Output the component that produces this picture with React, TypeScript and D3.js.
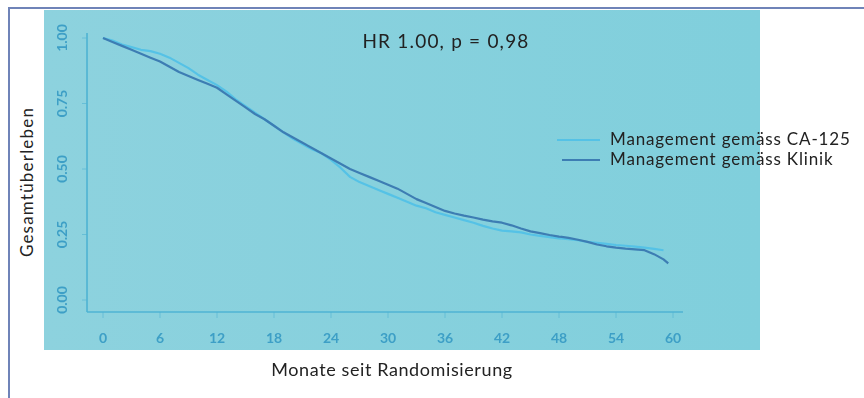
import React from "react";
import * as d3 from "d3";

const xTicks = [0, 6, 12, 18, 24, 30, 36, 42, 48, 54, 60];
const yTicks = [0, 0.25, 0.5, 0.75, 1];
const yTickLabels = ["0.00", "0.25", "0.50", "0.75", "1.00"];

const monthsCA = [0, 1, 2, 3, 4, 5, 6, 7, 8, 9, 10, 11, 12, 13, 14, 15, 16, 17, 18, 19, 20, 21, 22, 23, 24, 25, 26, 27, 28, 29, 30, 31, 32, 33, 34, 35, 36, 37, 38, 39, 40, 41, 42, 43, 44, 45, 46, 47, 48, 49, 50, 51, 52, 53, 54, 55, 56, 57, 58, 59];
const survCA = [1.0, 0.99, 0.975, 0.965, 0.955, 0.95, 0.94, 0.925, 0.905, 0.885, 0.86, 0.84, 0.82, 0.795, 0.765, 0.74, 0.715, 0.69, 0.665, 0.64, 0.615, 0.595, 0.575, 0.56, 0.535, 0.505, 0.47, 0.45, 0.435, 0.42, 0.405, 0.39, 0.375, 0.36, 0.35, 0.335, 0.325, 0.315, 0.305, 0.295, 0.283, 0.273, 0.265, 0.262, 0.258, 0.25, 0.245, 0.24, 0.235, 0.232, 0.228, 0.222, 0.218, 0.214, 0.21, 0.207, 0.204, 0.2, 0.195, 0.19];

const monthsKl = [0, 1, 2, 3, 4, 5, 6, 7, 8, 9, 10, 11, 12, 13, 14, 15, 16, 17, 18, 19, 20, 21, 22, 23, 24, 25, 26, 27, 28, 29, 30, 31, 32, 33, 34, 35, 36, 37, 38, 39, 40, 41, 42, 43, 44, 45, 46, 47, 48, 49, 50, 51, 52, 53, 54, 55, 56, 57, 58, 59, 59.5];
const survKl = [1.0, 0.985, 0.97, 0.955, 0.94, 0.925, 0.91, 0.89, 0.87, 0.855, 0.84, 0.825, 0.81, 0.785, 0.76, 0.735, 0.71, 0.69, 0.665, 0.64, 0.62, 0.6, 0.58, 0.56, 0.54, 0.52, 0.5, 0.485, 0.47, 0.455, 0.44, 0.425, 0.405, 0.385, 0.37, 0.355, 0.34, 0.33, 0.322, 0.315, 0.307, 0.3, 0.295, 0.285, 0.273, 0.262, 0.255, 0.248, 0.242, 0.237, 0.23, 0.222, 0.212, 0.205, 0.2, 0.196, 0.193, 0.19, 0.175, 0.155, 0.14];

const seriesNames = ["Management gemäss CA-125", "Management gemäss Klinik"];
const seriesColors = ["#55c2e6", "#3d7db3"];
const title = "HR 1.00, p = 0,98";
const xTitle = "Monate seit Randomisierung";
const yTitle = "Gesamtüberleben";

export default function App() {
  const W = 864, H = 398;
  const x = d3.scaleLinear().domain([0, 60]).range([103, 673]);
  const y = d3.scaleLinear().domain([0, 1]).range([300, 38]);
  const axisX = 87;
  const axisY = 312;
  const line = d3.line<[number, number]>().x(d => x(d[0])).y(d => y(d[1])).curve(d3.curveLinear);
  const dCA = line(monthsCA.map((m, i) => [m, survCA[i]] as [number, number])) || "";
  const dKl = line(monthsKl.map((m, i) => [m, survKl[i]] as [number, number])) || "";
  const font = "Lato, 'Noto Sans', sans-serif";
  const axisColor = "#4fb3d3";
  const labColor = "#3d9fc6";

  return (
    <svg width={W} height={H} style={{ position: "absolute", left: 0, top: 0 }} xmlns="http://www.w3.org/2000/svg">
      <defs>
        <linearGradient id="bg" x1="0" y1="0" x2="1" y2="0">
          <stop offset="0" stopColor="#8dd2de" />
          <stop offset="1" stopColor="#80cfdc" />
        </linearGradient>
        <filter id="soft" x="-10%" y="-10%" width="120%" height="120%">
          <feGaussianBlur stdDeviation="0.6" />
        </filter>
      </defs>
      <rect x={0} y={0} width={W} height={H} fill="#ffffff" />
      <rect x={44} y={10} width={716} height={340} fill="url(#bg)" />
      {/* frame */}
      <line x1={8} y1={8} x2={864} y2={8} stroke="#6f83b8" strokeWidth={2} />
      <line x1={9} y1={8} x2={9} y2={398} stroke="#6f83b8" strokeWidth={2} />

      {/* axes */}
      <g filter="url(#soft)">
        <line x1={axisX} y1={33} x2={axisX} y2={axisY} stroke={axisColor} strokeWidth={1.6} />
        <line x1={axisX} y1={axisY} x2={x(60) + 10} y2={axisY} stroke={axisColor} strokeWidth={1.6} />
        {xTicks.map(t => (
          <g key={"xt" + t}>
            <line x1={x(t)} y1={axisY} x2={x(t)} y2={axisY + 6} stroke={axisColor} strokeWidth={1} opacity={0.6} />
            <text x={x(t)} y={337} textAnchor="middle" dominantBaseline="central" fontFamily={font} fontWeight={700} fontSize={14} fill={labColor}>{t}</text>
          </g>
        ))}
        {yTicks.map((t, i) => (
          <g key={"yt" + t}>
            <line x1={axisX - 5} y1={y(t)} x2={axisX} y2={y(t)} stroke={axisColor} strokeWidth={1} opacity={0.6} />
            <text transform={`translate(61,${y(t)}) rotate(-90)`} textAnchor="middle" dominantBaseline="central" fontFamily={font} fontWeight={700} fontSize={14} fill={labColor}>{yTickLabels[i]}</text>
          </g>
        ))}
        <path d={dCA} fill="none" stroke={seriesColors[0]} strokeWidth={2.2} strokeLinejoin="round" />
        <path d={dKl} fill="none" stroke={seriesColors[1]} strokeWidth={2.2} strokeLinejoin="round" />
        <line x1={557} y1={140} x2={600} y2={140} stroke={seriesColors[0]} strokeWidth={2.2} />
        <line x1={562} y1={160} x2={600} y2={160} stroke={seriesColors[1]} strokeWidth={2.2} />
      </g>

      {/* texts */}
      <text x={446} y={48} textAnchor="middle" fontFamily={font} fontSize={19} letterSpacing={1.2} fill="#222">{title}</text>
      <text x={610} y={144.5} fontFamily={font} fontSize={17} letterSpacing={0.85} fill="#222">{seriesNames[0]}</text>
      <text x={610} y={165} fontFamily={font} fontSize={17} letterSpacing={0.85} fill="#222">{seriesNames[1]}</text>
      <text x={392} y={376} textAnchor="middle" fontFamily={font} fontSize={18} letterSpacing={0.6} fill="#222">{xTitle}</text>
      <text transform={`translate(33,182) rotate(-90)`} textAnchor="middle" fontFamily={font} fontSize={17} letterSpacing={1.2} fill="#222">{yTitle}</text>
    </svg>
  );
}
